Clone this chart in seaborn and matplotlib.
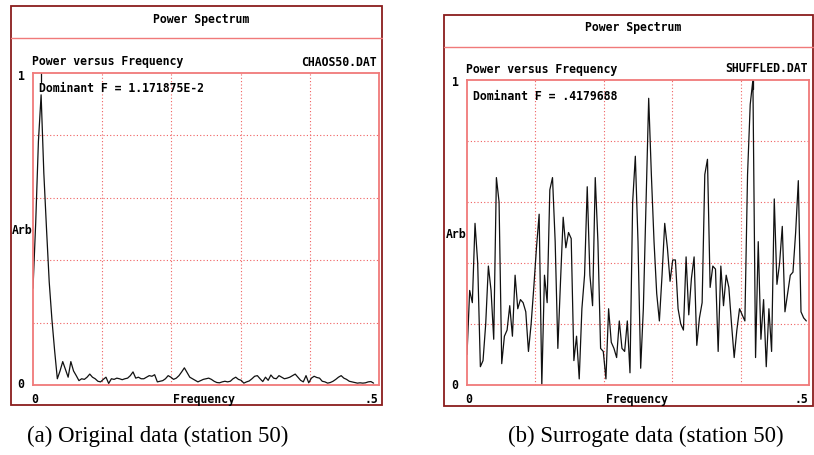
import numpy as np
import pandas as pd
import matplotlib
matplotlib.use("Agg")
import matplotlib.pyplot as plt
import seaborn as sns
from matplotlib.lines import Line2D
from matplotlib.patches import Rectangle

sns.set_theme(style="white")
plt.rcParams['font.family'] = ['DejaVu Sans']

# ---------------- data ----------------
n_samples = 256
original_power = [
    0.31, 0.52, 0.78, 0.93, 0.68, 0.50, 0.33, 0.21, 0.11, 0.02,
    0.045, 0.075, 0.05, 0.025, 0.075, 0.045, 0.03, 0.014, 0.02, 0.018,
    0.025, 0.035, 0.025, 0.02, 0.012, 0.01, 0.018, 0.025, 0.005, 0.02,
    0.018, 0.022, 0.02, 0.017, 0.02, 0.022, 0.03, 0.042, 0.022, 0.025,
    0.02, 0.02, 0.025, 0.03, 0.028, 0.033, 0.01, 0.012, 0.014, 0.02,
    0.03, 0.025, 0.018, 0.022, 0.03, 0.042, 0.055, 0.04, 0.025, 0.02,
    0.015, 0.01, 0.014, 0.018, 0.02, 0.022, 0.018, 0.012, 0.008, 0.007,
    0.01, 0.012, 0.01, 0.012, 0.02, 0.025, 0.018, 0.015, 0.006, 0.01,
    0.013, 0.02, 0.028, 0.03, 0.02, 0.011, 0.025, 0.015, 0.032, 0.022,
    0.02, 0.03, 0.025, 0.02, 0.022, 0.025, 0.03, 0.035, 0.025, 0.015,
    0.01, 0.03, 0.007, 0.022, 0.028, 0.024, 0.022, 0.012, 0.01, 0.006,
    0.008, 0.012, 0.018, 0.025, 0.03, 0.022, 0.018, 0.012, 0.01, 0.008,
    0.006, 0.007, 0.006, 0.007, 0.01, 0.011, 0.006,
]
surrogate_power = [
    0.10, 0.31, 0.27, 0.53, 0.40, 0.06, 0.08, 0.20, 0.39, 0.31,
    0.15, 0.68, 0.60, 0.07, 0.16, 0.18, 0.26, 0.16, 0.36, 0.25,
    0.28, 0.27, 0.24, 0.11, 0.20, 0.32, 0.45, 0.56, 0.00, 0.36,
    0.27, 0.64, 0.68, 0.47, 0.12, 0.34, 0.55, 0.45, 0.50, 0.48,
    0.08, 0.16, 0.02, 0.25, 0.36, 0.65, 0.36, 0.26, 0.68, 0.47,
    0.12, 0.11, 0.02, 0.25, 0.14, 0.12, 0.09, 0.21, 0.12, 0.11,
    0.21, 0.04, 0.60, 0.75, 0.47, 0.055, 0.25, 0.60, 0.94, 0.69,
    0.47, 0.30, 0.21, 0.36, 0.53, 0.45, 0.34, 0.41, 0.41, 0.25,
    0.20, 0.18, 0.42, 0.23, 0.35, 0.42, 0.13, 0.22, 0.27, 0.69,
    0.74, 0.32, 0.39, 0.38, 0.11, 0.39, 0.26, 0.36, 0.32, 0.20,
    0.09, 0.18, 0.25, 0.23, 0.21, 0.69, 0.92, 1.00, 0.09, 0.47,
    0.15, 0.28, 0.06, 0.25, 0.11, 0.61, 0.33, 0.40, 0.52, 0.24,
    0.30, 0.36, 0.37, 0.50, 0.67, 0.24, 0.22, 0.21,
]
panel_titles = ["Power Spectrum", "Power Spectrum"]
file_names = ["CHAOS50.DAT", "SHUFFLED.DAT"]
dominant_labels = ["Dominant F = 1.171875E-2", "Dominant F = .4179688"]
dominant_freqs = [3 / 256, 107 / 256]
captions = ["(a) Original data (station 50)", "(b) Surrogate data (station 50)"]

# ---------------- layout (pixels) ----------------
W, H = 814, 456
fig = plt.figure(figsize=(W / 100, H / 100), dpi=100)
fig.patch.set_facecolor("white")

def fx(x):
    return x / W

def fy(y):
    return 1 - y / H

MONO = dict(family="DejaVu Sans Mono", weight="bold", size=8.3, color="black")
RED = "#f07a7a"
GRID = "#f06060"
BOX = "#8a1c1c"

panels = [
    dict(outer=(11, 7, 382, 406), sep=39, plot=(33, 74, 379, 386),
         title=(201, 19), pvf=(32, 62), fname=(377, 62), one=(21, 76),
         dom=(39, 89), arb=(12, 231), zero_y=(21, 385), xy=400,
         x0=35, freq=204, x5=378),
    dict(outer=(444, 16, 813, 407), sep=48, plot=(467, 81, 809, 386),
         title=(633, 28), pvf=(466, 69), fname=(808, 69), one=(455, 83),
         dom=(473, 97), arb=(446, 235), zero_y=(455, 386), xy=400,
         x0=469, freq=637, x5=808),
]
series = [original_power, surrogate_power]

for i, p in enumerate(panels):
    x0, y0, x1, y1 = p["outer"]
    fig.add_artist(Rectangle((fx(x0), fy(y1)), fx(x1) - fx(x0), fy(y0) - fy(y1),
                             transform=fig.transFigure, fill=False,
                             edgecolor=BOX, linewidth=1.3))
    fig.add_artist(Line2D([fx(x0), fx(x1)], [fy(p["sep"]), fy(p["sep"])],
                          transform=fig.transFigure, color=RED, linewidth=1.0))

    px0, py0, px1, py1 = p["plot"]
    ax = fig.add_axes([fx(px0), fy(py1), fx(px1) - fx(px0), fy(py0) - fy(py1)])
    vals = series[i]
    df = pd.DataFrame({"freq": np.arange(len(vals)) / n_samples, "power": vals})
    sns.lineplot(data=df, x="freq", y="power", ax=ax, color="#111111",
                 linewidth=0.9, estimator=None)
    ax.plot([dominant_freqs[i], dominant_freqs[i]], [1.0, 0.97], color="#111111", lw=0.9)
    ax.set_xlim(0, 0.5)
    ax.set_ylim(0, 1)
    ax.set_xticks([0.1, 0.2, 0.3, 0.4])
    ax.set_yticks([0.2, 0.4, 0.6, 0.8])
    ax.tick_params(length=0, labelbottom=False, labelleft=False)
    ax.grid(True, color=GRID, linestyle=(0, (1, 2)), linewidth=0.8)
    ax.set_xlabel("")
    ax.set_ylabel("")
    ax.set_facecolor("white")
    for s in ax.spines.values():
        s.set_color(RED)
        s.set_linewidth(1.3)

    fig.text(fx(p["title"][0]), fy(p["title"][1]), panel_titles[i], ha="center", va="center", **MONO)
    fig.text(fx(p["pvf"][0]), fy(p["pvf"][1]), "Power versus Frequency", ha="left", va="center", **MONO)
    fig.text(fx(p["fname"][0]), fy(p["fname"][1]), file_names[i], ha="right", va="center", **MONO)
    fig.text(fx(p["one"][0]), fy(p["one"][1]), "1", ha="center", va="center", **MONO)
    fig.text(fx(p["dom"][0]), fy(p["dom"][1]), dominant_labels[i], ha="left", va="center", **MONO)
    fig.text(fx(p["arb"][0]), fy(p["arb"][1]), "Arb", ha="left", va="center", **MONO)
    fig.text(fx(p["zero_y"][0]), fy(p["zero_y"][1]), "0", ha="center", va="center", **MONO)
    fig.text(fx(p["x0"]), fy(p["xy"]), "0", ha="center", va="center", **MONO)
    fig.text(fx(p["freq"]), fy(p["xy"]), "Frequency", ha="center", va="center", **MONO)
    fig.text(fx(p["x5"]), fy(p["xy"]), ".5", ha="right", va="center", **MONO)

fig.text(fx(158), fy(436), captions[0], ha="center", va="center",
         family="Liberation Serif", size=16.5, color="black")
fig.text(fx(646), fy(436), captions[1], ha="center", va="center",
         family="Liberation Serif", size=16.5, color="black")

fig.savefig("out.png", dpi=100, facecolor="white")
